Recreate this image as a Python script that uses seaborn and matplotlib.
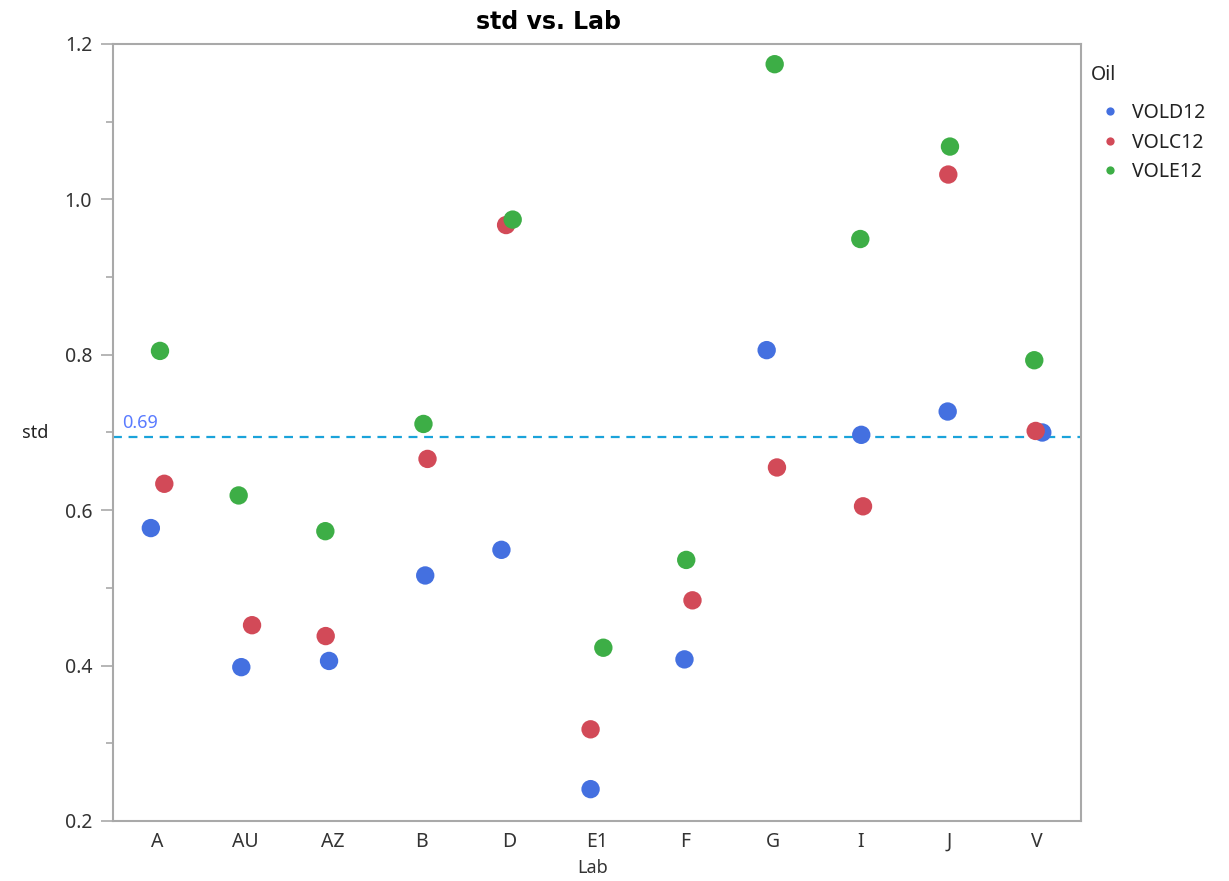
import matplotlib
matplotlib.use("Agg")
import matplotlib.pyplot as plt
import seaborn as sns
import pandas as pd
import numpy as np
from matplotlib.ticker import MultipleLocator

# ---- data ----
labs = ["A", "AU", "AZ", "B", "D", "E1", "F", "G", "I", "J", "V"]
oils = ["VOLD12", "VOLC12", "VOLE12"]
vold12 = [0.577, 0.398, 0.406, 0.516, 0.549, 0.241, 0.408, 0.806, 0.697, 0.727, 0.700]
volc12 = [0.634, 0.452, 0.438, 0.666, 0.967, 0.318, 0.484, 0.655, 0.605, 1.032, 0.702]
vole12 = [0.805, 0.619, 0.573, 0.711, 0.974, 0.423, 0.536, 1.174, 0.949, 1.068, 0.793]
# horizontal jitter (in category units) as seen in the reference
jit_d = [-0.070, -0.042, -0.045, 0.048, -0.086, -0.073, -0.006, -0.072, 0.003, -0.015, 0.060]
jit_c = [0.083, 0.080, -0.083, 0.074, -0.033, -0.073, 0.085, 0.045, 0.023, -0.008, -0.015]
jit_e = [0.034, -0.072, -0.087, 0.028, 0.042, 0.072, 0.014, 0.019, -0.008, 0.011, -0.031]
ref_value = 0.694
ref_label = "0.69"

colors = {"VOLD12": "#4470E0", "VOLC12": "#D24A58", "VOLE12": "#3DAE46"}

rows = []
for oil, vals, jit in zip(oils, [vold12, volc12, vole12], [jit_d, jit_c, jit_e]):
    for i, (lab, v, j) in enumerate(zip(labs, vals, jit)):
        rows.append({"Lab": lab, "pos": i + j, "std": v, "Oil": oil})
df = pd.DataFrame(rows)

sns.set_style("white")
plt.rcParams["font.family"] = ["Noto Sans", "DejaVu Sans"]

fig = plt.figure(figsize=(12.29, 8.81), dpi=100)
ax = fig.add_axes([113 / 1229, 1 - 821 / 881, (1081 - 113) / 1229, (821 - 44) / 881])

ax.axhline(ref_value, color="#1AA3DA", linestyle=(0, (4, 3)), linewidth=1.6, zorder=1)
ax.text(-0.4, ref_value + 0.006, ref_label, color="#5A7BFF", fontsize=13,
        ha="left", va="bottom", zorder=1)

sns.scatterplot(data=df, x="pos", y="std", hue="Oil", hue_order=oils,
                palette=colors, s=175, linewidth=0, ax=ax, zorder=3, legend=True)

ax.set_xlim(-0.5, len(labs) - 0.5)
ax.set_ylim(0.2, 1.2)
ax.set_xticks(range(len(labs)))
ax.set_xticklabels(labs)
ax.yaxis.set_major_locator(MultipleLocator(0.2))
ax.yaxis.set_minor_locator(MultipleLocator(0.1))
ax.yaxis.set_major_formatter(matplotlib.ticker.FormatStrFormatter("%.1f"))

for sp in ax.spines.values():
    sp.set_color("#A9A9A9")
    sp.set_linewidth(1.5)

ax.tick_params(axis="y", which="major", length=9, width=1.2, color="#A9A9A9",
               labelsize=14, labelcolor="#333333", left=True, pad=6)
ax.tick_params(axis="y", which="minor", length=5, width=1.2, color="#A9A9A9", left=True)
ax.tick_params(axis="x", length=0, labelsize=14, labelcolor="#333333", pad=8)

ax.set_xlabel("")
ax.set_ylabel("")
fig.text(593 / 1229, 1 - 868 / 881, "Lab", ha="center", va="center", fontsize=13, color="#333333")
fig.text(35 / 1229, 1 - 433 / 881, "std", ha="center", va="center", fontsize=13, color="#222222")
fig.text(548 / 1229, 1 - 22 / 881, "std vs. Lab", ha="center", va="center",
         fontsize=17, fontweight="bold", color="black", family=["DejaVu Sans"])

leg = ax.legend(title="Oil", loc="upper left", bbox_to_anchor=(1083 / 1229, 1 - 57 / 881),
                bbox_transform=fig.transFigure, frameon=False, fontsize=14,
                title_fontsize=14, markerscale=0.45, handletextpad=0.1,
                labelspacing=0.5, borderaxespad=0)
leg._legend_box.align = "left"
leg._legend_box.sep = 13
for t in leg.get_texts():
    t.set_color("#222222")

fig.savefig("out.png", dpi=100, facecolor="white")
